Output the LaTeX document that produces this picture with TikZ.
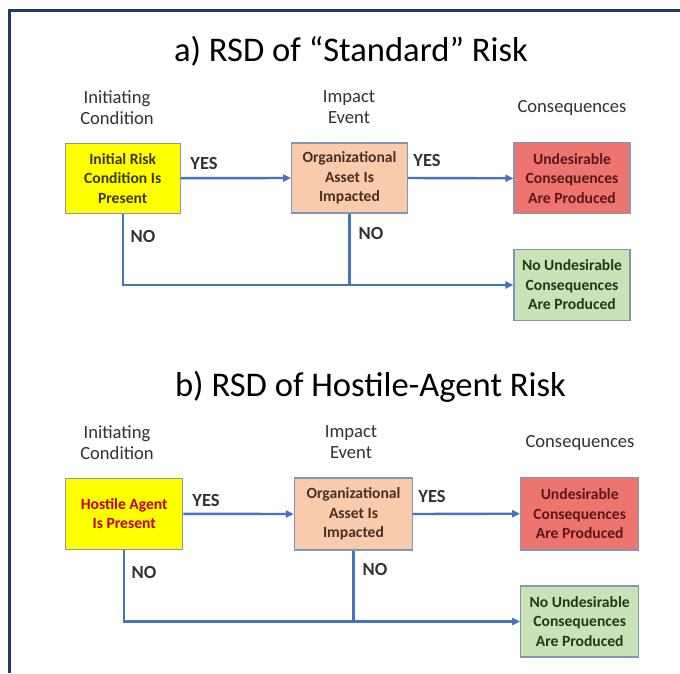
\documentclass[tikz,border=0pt]{standalone}
\usepackage{fontspec}
\setmainfont{Carlito}
\usetikzlibrary{arrows.meta}

\definecolor{framenavy}{HTML}{1F3864}
\definecolor{flowblue}{HTML}{4472C4}
\definecolor{boxedge}{HTML}{8497B0}
\definecolor{fillyellow}{HTML}{FFFF00}
\definecolor{fillorange}{HTML}{F8CBAD}
\definecolor{fillred}{HTML}{EE7470}
\definecolor{fillgreen}{HTML}{C9E2B8}
\definecolor{txtolive}{HTML}{3A3A10}
\definecolor{txtbrown}{HTML}{4A3020}
\definecolor{txtred}{HTML}{5A1818}
\definecolor{txtgreen}{HTML}{1E3A18}
\definecolor{hostilered}{HTML}{C00000}
\definecolor{labelgray}{HTML}{333333}

\tikzset{
  box/.style={draw=boxedge, line width=1.2pt, minimum width=116pt, minimum height=71pt,
    inner sep=0pt, align=center, font=\fontsize{15.6}{19.5}\selectfont\bfseries},
  initbox/.style={box, fill=fillyellow, text=txtolive},
  impactbox/.style={box, fill=fillorange, text=txtbrown},
  badbox/.style={box, fill=fillred, text=txtred},
  goodbox/.style={box, fill=fillgreen, text=txtgreen},
  flow/.style={draw=flowblue, line width=2.4pt, -{Triangle[length=8pt,width=7pt]}},
  flowline/.style={draw=flowblue, line width=2.4pt},
  header/.style={align=center, text=labelgray, font=\fontsize{18.6}{21}\selectfont},
  answer/.style={text=labelgray, font=\fontsize{18.5}{21}\selectfont\bfseries},
  heading/.style={text=black, font=\fontsize{34.6}{38}\selectfont}
}

\begin{document}
\begin{tikzpicture}[x=1pt, y=-1pt]
\useasboundingbox (0,0) rectangle (680,673);
\fill[white] (0,0) rectangle (680,673);
% outer frame (left and top edges)
\draw[framenavy, line width=2.8pt] (9.7,673) -- (9.7,10.5) -- (680,10.5);

% ---------- a) standard risk ----------
\node[heading] (ta) at (351,51) {a) RSD of “Standard” Risk};
\node[header] (hia) at (117,107.5) {Initiating\\Condition};
\node[header] (hea) at (349,107.5) {Impact\\Event};
\node[header] (hca) at (572,108) {Consequences};

\node[initbox, minimum width=115pt, minimum height=70pt] (ya) at (122.7,178.2) {Initial Risk\\Condition Is\\Present};
\node[impactbox, minimum width=115.6pt, minimum height=70pt] (oa) at (349.5,178) {Organizational\\Asset Is\\Impacted};
\node[badbox] (ra) at (572,178.3) {Undesirable\\Consequences\\Are Produced};
\node[goodbox] (ga) at (572,285) {No Undesirable\\Consequences\\Are Produced};

\draw[flow] (ya.east) -- (oa.west);
\draw[flow] (oa.east) -- (ra.west);
\draw[flow] (ya.south) |- (ga.west);
\draw[flowline] (oa.south) -- (oa.south |- ga.west);

\node[answer] (ya1) at (204,163) {YES};
\node[answer] (ya2) at (427,160.5) {YES};
\node[answer] (na1) at (143,236) {NO};
\node[answer] (na2) at (371,233.5) {NO};

% ---------- b) hostile-agent risk ----------
\node[heading] (tb) at (370.5,387) {b) RSD of Hostile-Agent Risk};
\node[header] (hib) at (117,442.5) {Initiating\\Condition};
\node[header] (heb) at (351,442.5) {Impact\\Event};
\node[header] (hcb) at (580,443) {Consequences};

\node[initbox, minimum width=117pt, text=hostilered] (yb) at (124.2,513.8) {Hostile Agent\\Is Present};
\node[impactbox, minimum width=118pt, minimum height=72pt] (ob) at (353.5,514) {Organizational\\Asset Is\\Impacted};
\node[badbox, minimum width=118pt, minimum height=72.5pt] (rb) at (579.7,513.7) {Undesirable\\Consequences\\Are Produced};
\node[goodbox, minimum width=118pt] (gb) at (579.7,621.5) {No Undesirable\\Consequences\\Are Produced};

\draw[flow] (yb.east) -- (ob.west);
\draw[flow] (ob.east) -- (rb.west);
\draw[flow] (yb.south) |- (gb.west);
\draw[flowline] (ob.south) -- (ob.south |- gb.west);

\node[answer] (yb1) at (206,500) {YES};
\node[answer] (yb2) at (432,496.5) {YES};
\node[answer] (nb1) at (144,572.5) {NO};
\node[answer] (nb2) at (375,569.5) {NO};
\end{tikzpicture}
\end{document}
